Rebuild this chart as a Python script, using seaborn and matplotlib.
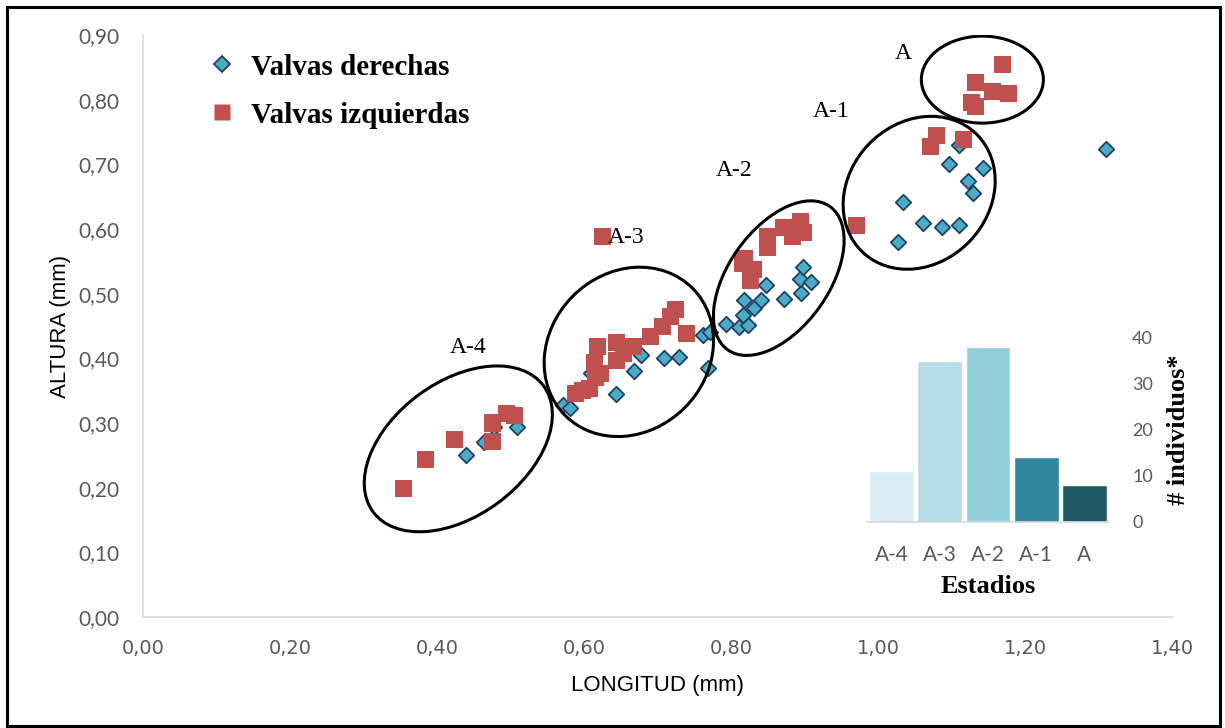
import matplotlib
matplotlib.use("Agg")
import matplotlib.pyplot as plt
import matplotlib.transforms as mtransforms
from matplotlib.patches import Ellipse, Rectangle
from matplotlib.lines import Line2D
from matplotlib.ticker import FuncFormatter
import seaborn as sns
import pandas as pd

# ---------------- data ----------------
der_x = [0.440, 0.464, 0.478, 0.509,
         0.571, 0.581, 0.610, 0.644, 0.668, 0.678, 0.709, 0.729, 0.769, 0.762, 0.771,
         0.793, 0.811, 0.823, 0.816, 0.831, 0.818, 0.841, 0.848, 0.872, 0.895, 0.894, 0.909, 0.898,
         1.110, 1.097, 1.143, 1.122, 1.129, 1.034, 1.061, 1.087, 1.110, 1.027,
         1.310]
der_y = [0.250, 0.271, 0.294, 0.294,
         0.328, 0.323, 0.377, 0.345, 0.380, 0.405, 0.400, 0.402, 0.385, 0.436, 0.441,
         0.453, 0.449, 0.452, 0.467, 0.478, 0.490, 0.490, 0.513, 0.492, 0.501, 0.523, 0.518, 0.541,
         0.730, 0.700, 0.694, 0.674, 0.656, 0.642, 0.609, 0.603, 0.606, 0.580,
         0.724]

izq_x = [0.354, 0.384, 0.424, 0.476, 0.476, 0.494, 0.505,
         0.625, 0.589, 0.598, 0.608, 0.616, 0.623, 0.614, 0.619, 0.644, 0.644, 0.654, 0.668,
         0.691, 0.707, 0.718, 0.725, 0.739,
         0.816, 0.830, 0.827, 0.819, 0.850, 0.850, 0.872, 0.884, 0.895, 0.898,
         1.079, 1.071, 1.116, 0.971,
         1.170, 1.132, 1.156, 1.177, 1.127, 1.133]
izq_y = [0.199, 0.244, 0.274, 0.272, 0.300, 0.315, 0.311,
         0.588, 0.346, 0.351, 0.354, 0.371, 0.377, 0.393, 0.418, 0.425, 0.397, 0.408, 0.418,
         0.433, 0.449, 0.464, 0.475, 0.439,
         0.547, 0.537, 0.521, 0.555, 0.588, 0.572, 0.603, 0.588, 0.611, 0.594,
         0.745, 0.727, 0.739, 0.605,
         0.854, 0.826, 0.812, 0.810, 0.796, 0.789]

stages = ["A-4", "A-3", "A-2", "A-1", "A"]
counts = [11, 35, 38, 14, 8]
stage_colors = ["#DAEEF3", "#B7DEE8", "#92CDDC", "#31859C", "#215968"]

# group annotations: label, label position (data), ellipse centre (data)
group_labels = ["A-4", "A-3", "A-2", "A-1", "A"]
label_x = [0.442, 0.657, 0.804, 0.936, 1.034]
label_y = [0.417, 0.587, 0.691, 0.781, 0.872]
ell_cx = [0.429, 0.661, 0.865, 1.056, 1.142]
ell_cy = [0.260, 0.410, 0.524, 0.656, 0.831]

x_ticks = [0.0, 0.2, 0.4, 0.6, 0.8, 1.0, 1.2, 1.4]
y_ticks = [0.0, 0.1, 0.2, 0.3, 0.4, 0.5, 0.6, 0.7, 0.8, 0.9]

# ---------------- style ----------------
sns.set_theme(style="white")
plt.rcParams["font.family"] = ["DejaVu Sans"]
plt.rcParams["text.color"] = "black"
plt.rcParams["axes.labelcolor"] = "black"

W, H = 1225, 728
fig = plt.figure(figsize=(W / 100, H / 100), dpi=100)

def fx(px):
    return px / W

def fy(py):
    return 1 - py / H

# main axes
ax = fig.add_axes([fx(143), fy(617), fx(1172) - fx(143), fy(35) - fy(617)])

df_d = pd.DataFrame({"LONGITUD": der_x, "ALTURA": der_y})
df_i = pd.DataFrame({"LONGITUD": izq_x, "ALTURA": izq_y})

sns.scatterplot(data=df_d, x="LONGITUD", y="ALTURA", marker="D", s=62,
                color="#4BACC6", edgecolor="#1F3F66", linewidth=1.3, ax=ax, zorder=3)
sns.scatterplot(data=df_i, x="LONGITUD", y="ALTURA", marker="s", s=150,
                color="#C0504D", edgecolor="none", linewidth=0, ax=ax, zorder=4)

ax.set_xlim(0, 1.4)
ax.set_ylim(0, 0.9)
ax.set_xticks(x_ticks)
ax.set_yticks(y_ticks)
ax.xaxis.set_major_formatter(FuncFormatter(lambda v, p: f"{v:.2f}".replace(".", ",")))
ax.yaxis.set_major_formatter(FuncFormatter(lambda v, p: f"{v:.2f}".replace(".", ",")))
ax.tick_params(axis="both", length=0, colors="#595959")
ax.tick_params(axis="y", pad=17)
ax.tick_params(axis="x", pad=16)
for lab in ax.get_yticklabels():
    lab.set_fontfamily("Lato")
    lab.set_fontsize(15)
for lab in ax.get_xticklabels():
    lab.set_fontfamily("DejaVu Sans")
    lab.set_fontsize(14)

for s in ["top", "right"]:
    ax.spines[s].set_visible(False)
for s in ["left", "bottom"]:
    ax.spines[s].set_color("#D9D9D9")
    ax.spines[s].set_linewidth(1.2)

ax.set_xlabel("LONGITUD (mm)", fontfamily="Liberation Sans", fontsize=16, color="black", labelpad=12)
ax.set_ylabel("ALTURA (mm)", fontfamily="Liberation Sans", fontsize=16, color="black", labelpad=5)

# ellipses (sizes in pixels around data centres)
ell_w = [212, 180, 176, 164, 122]
ell_h = [134, 158, 100, 140, 87]
ell_a = [36.5, 45, 54.5, 46, 0]
for cx, cy, w, h, a in zip(ell_cx, ell_cy, ell_w, ell_h, ell_a):
    tr = fig.dpi_scale_trans + mtransforms.ScaledTranslation(cx, cy, ax.transData)
    e = Ellipse((0, 0), w / 100, h / 100, angle=a, transform=tr,
                fill=False, edgecolor="black", linewidth=2.2, zorder=5)
    ax.add_patch(e)

for lab, lx, ly in zip(group_labels, label_x, label_y):
    ax.text(lx, ly, lab, fontfamily="Liberation Serif", fontsize=17, color="black",
            ha="center", va="center", zorder=6)

# legend
handles = [
    Line2D([], [], marker="D", linestyle="none", markersize=8, markerfacecolor="#4BACC6",
           markeredgecolor="#1F3F66", markeredgewidth=1.3),
    Line2D([], [], marker="s", linestyle="none", markersize=11, markerfacecolor="#C0504D",
           markeredgecolor="none"),
]
leg = ax.legend(handles, ["Valvas derechas", "Valvas izquierdas"], loc="upper left",
                bbox_to_anchor=(fx(196), fy(39)), bbox_transform=fig.transFigure,
                frameon=False, borderpad=0, handlelength=0.8, handletextpad=0.6,
                labelspacing=0.72,
                prop={"family": "Liberation Serif", "weight": "bold", "size": 21})
for t in leg.get_texts():
    t.set_color("black")

# inset bar chart
axi = fig.add_axes([fx(867.4), fy(521.7), fx(1108.6) - fx(867.4), fy(338) - fy(521.7)])
df_b = pd.DataFrame({"Estadios": stages, "n": counts})
sns.barplot(data=df_b, x="Estadios", y="n", hue="Estadios", palette=stage_colors,
            legend=False, width=0.93, saturation=1, ax=axi)
axi.set_ylim(0, 40)
axi.set_xlim(-0.5, 4.5)
axi.set_yticks([0, 10, 20, 30, 40])
axi.yaxis.tick_right()
axi.yaxis.set_label_position("right")
axi.tick_params(axis="both", length=0, colors="#595959")
axi.tick_params(axis="y", pad=17, labelsize=13)
axi.tick_params(axis="x", pad=17, labelsize=15)
for lab in axi.get_xticklabels() + axi.get_yticklabels():
    lab.set_fontfamily("Lato")
axi.set_facecolor("none")
for s in ["top", "right", "left"]:
    axi.spines[s].set_visible(False)
axi.spines["bottom"].set_color("#D9D9D9")
axi.spines["bottom"].set_linewidth(1.2)
axi.set_xlabel("Estadios", fontfamily="Liberation Serif", fontweight="bold", fontsize=19,
               color="black", labelpad=7)
axi.set_ylabel("# individuos*", fontfamily="Liberation Serif", fontweight="bold", fontsize=19,
               color="black", rotation=90, labelpad=10)

# outer frame
fig.patches.append(Rectangle((fx(7), fy(726)), fx(1220) - fx(7), fy(7) - fy(726),
                             transform=fig.transFigure, fill=False, edgecolor="black",
                             linewidth=2.2))

fig.savefig("out.png", dpi=100)
